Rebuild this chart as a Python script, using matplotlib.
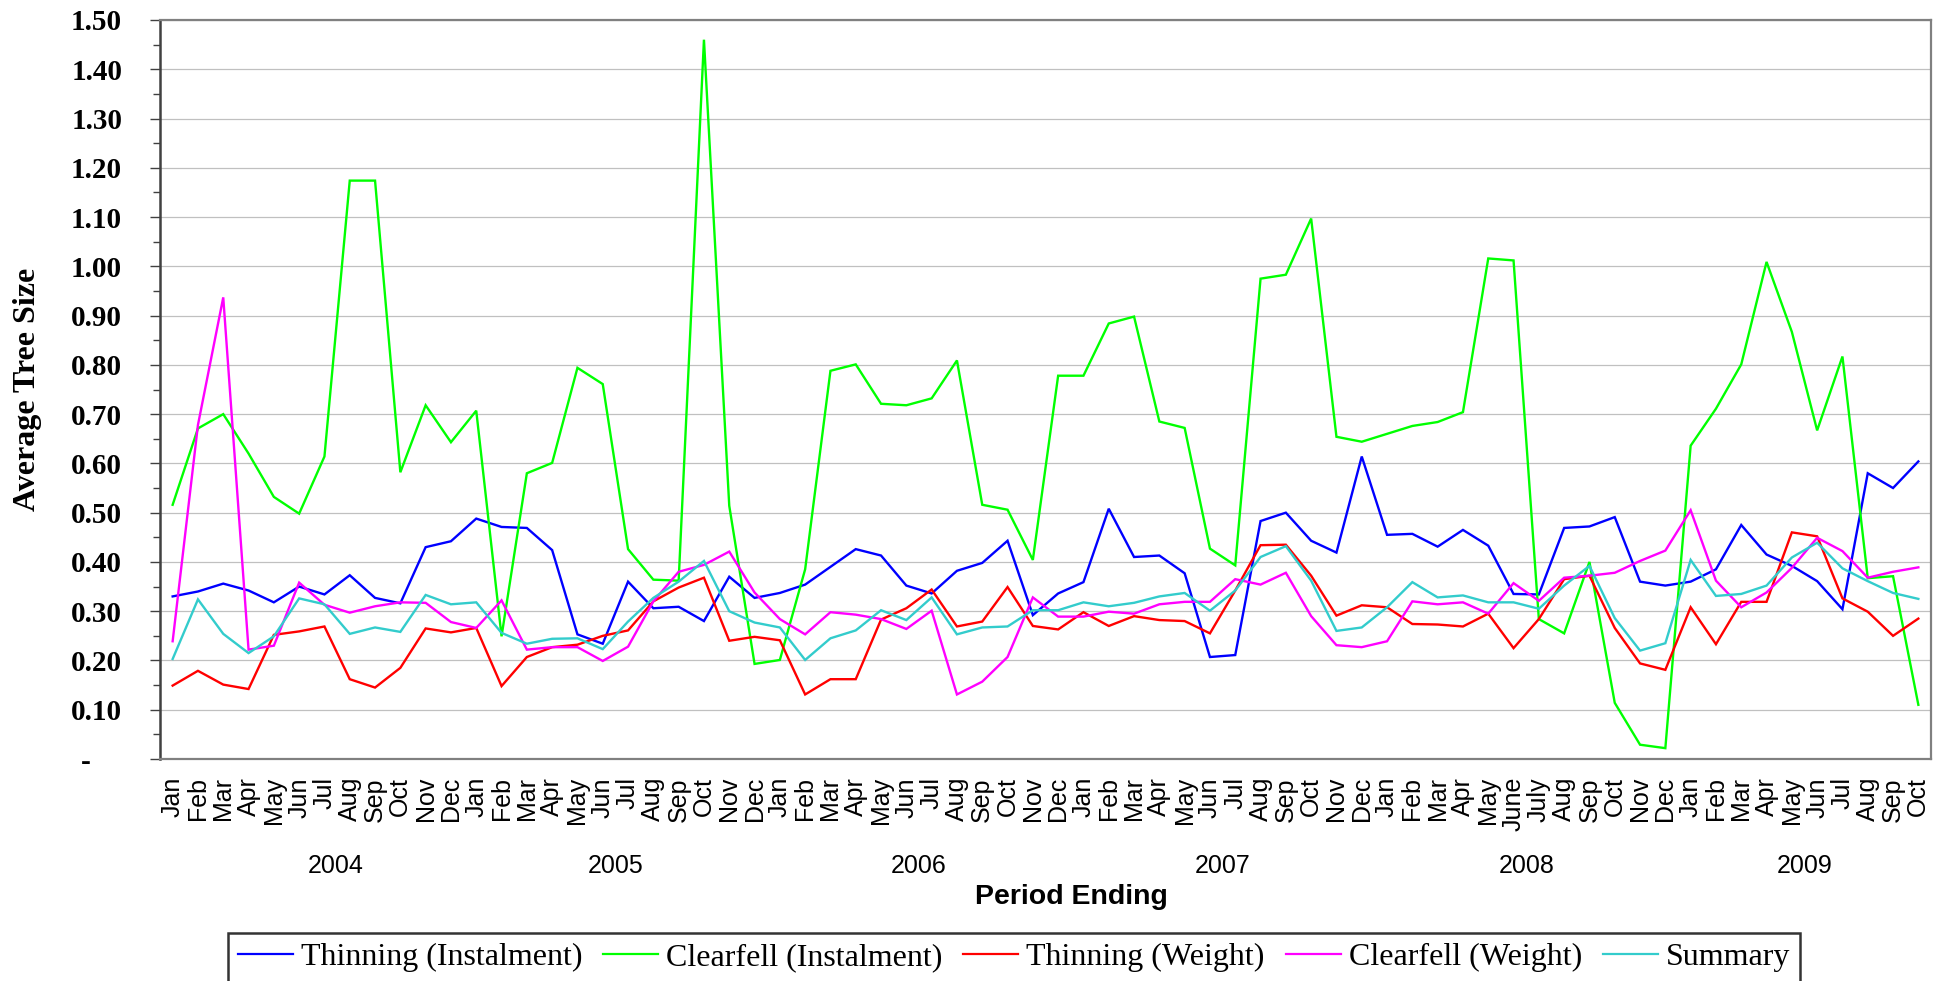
import matplotlib
matplotlib.use("Agg")
import matplotlib.pyplot as plt
import matplotlib.transforms as mtransforms
from matplotlib.ticker import MultipleLocator, FuncFormatter

# ---------------- data ----------------
months = (["Jan", "Feb", "Mar", "Apr", "May", "Jun", "Jul", "Aug", "Sep", "Oct", "Nov", "Dec"] * 4
          + ["Jan", "Feb", "Mar", "Apr", "May", "June", "July", "Aug", "Sep", "Oct", "Nov", "Dec"]
          + ["Jan", "Feb", "Mar", "Apr", "May", "Jun", "Jul", "Aug", "Sep", "Oct"])
years = ["2004", "2005", "2006", "2007", "2008", "2009"]
year_counts = [12, 12, 12, 12, 12, 10]

thinning_instalment = [
    0.330, 0.340, 0.356, 0.342, 0.318, 0.350, 0.334, 0.373, 0.327, 0.316, 0.430, 0.442,
    0.488, 0.471, 0.469, 0.424, 0.253, 0.234, 0.360, 0.306, 0.309, 0.280, 0.370, 0.327,
    0.337, 0.354, 0.390, 0.426, 0.413, 0.352, 0.336, 0.382, 0.398, 0.443, 0.292, 0.336,
    0.359, 0.508, 0.410, 0.413, 0.377, 0.207, 0.211, 0.483, 0.500, 0.443, 0.419, 0.614,
    0.455, 0.457, 0.431, 0.465, 0.433, 0.335, 0.334, 0.469, 0.472, 0.491, 0.360, 0.352,
    0.360, 0.385, 0.475, 0.415, 0.392, 0.361, 0.304, 0.580, 0.550, 0.604]
clearfell_instalment = [
    0.516, 0.671, 0.700, 0.620, 0.532, 0.498, 0.614, 1.174, 1.174, 0.582, 0.718, 0.643,
    0.707, 0.249, 0.580, 0.601, 0.794, 0.761, 0.426, 0.364, 0.362, 1.460, 0.514, 0.193,
    0.201, 0.385, 0.788, 0.801, 0.721, 0.718, 0.732, 0.809, 0.516, 0.506, 0.404, 0.778,
    0.778, 0.884, 0.898, 0.685, 0.672, 0.427, 0.393, 0.975, 0.983, 1.097, 0.654, 0.644,
    0.660, 0.676, 0.684, 0.704, 1.016, 1.012, 0.284, 0.255, 0.400, 0.114, 0.029, 0.022,
    0.636, 0.711, 0.801, 1.009, 0.867, 0.667, 0.817, 0.367, 0.371, 0.110]
thinning_weight = [
    0.149, 0.179, 0.151, 0.142, 0.252, 0.259, 0.269, 0.162, 0.145, 0.185, 0.265, 0.257,
    0.266, 0.148, 0.207, 0.227, 0.232, 0.250, 0.261, 0.320, 0.348, 0.368, 0.240, 0.248,
    0.241, 0.131, 0.162, 0.162, 0.283, 0.306, 0.344, 0.269, 0.279, 0.349, 0.270, 0.263,
    0.298, 0.270, 0.290, 0.282, 0.280, 0.255, 0.342, 0.434, 0.435, 0.372, 0.291, 0.312,
    0.308, 0.274, 0.273, 0.269, 0.295, 0.225, 0.284, 0.365, 0.372, 0.266, 0.194, 0.181,
    0.308, 0.233, 0.319, 0.319, 0.460, 0.452, 0.326, 0.299, 0.250, 0.285]
clearfell_weight = [
    0.239, 0.678, 0.937, 0.222, 0.230, 0.358, 0.313, 0.297, 0.310, 0.318, 0.317, 0.278,
    0.266, 0.322, 0.222, 0.227, 0.227, 0.199, 0.228, 0.320, 0.380, 0.394, 0.421, 0.338,
    0.284, 0.253, 0.298, 0.293, 0.284, 0.264, 0.301, 0.131, 0.157, 0.207, 0.328, 0.289,
    0.289, 0.299, 0.295, 0.314, 0.319, 0.319, 0.365, 0.354, 0.378, 0.290, 0.231, 0.227,
    0.239, 0.320, 0.314, 0.318, 0.295, 0.357, 0.321, 0.368, 0.372, 0.378, 0.402, 0.423,
    0.505, 0.362, 0.308, 0.338, 0.388, 0.449, 0.422, 0.368, 0.380, 0.389]
summary = [
    0.203, 0.324, 0.254, 0.215, 0.249, 0.326, 0.314, 0.254, 0.267, 0.258, 0.333, 0.314,
    0.318, 0.256, 0.234, 0.244, 0.245, 0.223, 0.279, 0.327, 0.360, 0.402, 0.300, 0.277,
    0.267, 0.201, 0.245, 0.261, 0.302, 0.282, 0.328, 0.253, 0.267, 0.269, 0.302, 0.302,
    0.318, 0.310, 0.317, 0.330, 0.337, 0.301, 0.342, 0.410, 0.432, 0.362, 0.260, 0.267,
    0.308, 0.359, 0.328, 0.332, 0.318, 0.318, 0.305, 0.352, 0.392, 0.286, 0.220, 0.235,
    0.404, 0.331, 0.335, 0.352, 0.409, 0.439, 0.387, 0.361, 0.337, 0.325]

series_names = ["Thinning (Instalment)", "Clearfell (Instalment)", "Thinning (Weight)",
                "Clearfell (Weight)", "Summary"]
series_values = [thinning_instalment, clearfell_instalment, thinning_weight,
                 clearfell_weight, summary]
series_colors = ["#0000FF", "#00FF00", "#FF0000", "#FF00FF", "#33CCCC"]

# ---------------- figure ----------------
W, H = 1948, 981
fig = plt.figure(figsize=(W / 100, H / 100), dpi=100)
ax = fig.add_axes([160 / W, 1 - 759 / H, (1931 - 160) / W, (759 - 20) / H])

x = list(range(len(months)))
handles = []
for name, vals, col in zip(series_names, series_values, series_colors):
    h, = ax.plot(x, vals, color=col, lw=1.7, label=name, zorder=3,
                 solid_joinstyle="miter")
    handles.append(h)

ax.set_xlim(-0.5, len(months) - 0.5)
ax.set_ylim(0, 1.5)

# y axis
ax.yaxis.set_major_locator(MultipleLocator(0.1))
ax.yaxis.set_minor_locator(MultipleLocator(0.05))
ax.yaxis.set_major_formatter(FuncFormatter(lambda v, p: "-" if abs(v) < 1e-9 else f"{v:.2f}"))
ax.tick_params(axis="y", which="major", direction="out", length=7.2, width=1.0,
               color="#404040", pad=20)
ax.tick_params(axis="y", which="minor", direction="out", length=5, width=1.0,
               color="#404040")
for lab in ax.get_yticklabels():
    lab.set_fontfamily("Liberation Serif")
    lab.set_fontweight("bold")
    lab.set_fontsize(21)
ax.grid(axis="y", which="major", color="#C0C0C0", lw=0.9, zorder=0)
ax.set_axisbelow(True)

# x axis
ax.set_xticks(x)
ax.set_xticklabels(months, rotation=90, fontsize=18, fontfamily="Liberation Sans",
                   va="top", ha="center")
ax.tick_params(axis="x", length=0, pad=13)

for s in ["top", "right", "bottom"]:
    ax.spines[s].set_color("#808080")
    ax.spines[s].set_linewidth(1.6)
ax.spines["left"].set_color("#404040")
ax.spines["left"].set_linewidth(1.8)

# move the "-" zero label like the accounting format
fig.canvas.draw()
for lab in ax.get_yticklabels():
    if lab.get_text() == "-":
        lab.set_transform(lab.get_transform()
                          + mtransforms.ScaledTranslation(-31 / 100, 0, fig.dpi_scale_trans))

# year group labels
trans = mtransforms.blended_transform_factory(ax.transData, fig.transFigure)
start = 0
for i, (yr, n) in enumerate(zip(years, year_counts)):
    centre = start + (n - 1) / 2
    if i == 0:
        centre += 0.95
    ax.text(centre, 1 - 866 / H, yr, transform=trans, ha="center", va="center",
            fontsize=18, fontfamily="Liberation Sans", clip_on=False)
    start += n

fig.text(1071 / W, 1 - 897 / H, "Period Ending", ha="center", va="center",
         fontsize=20.5, fontweight="bold", fontfamily="Liberation Sans")
fig.text(28 / W, 1 - 389 / H, "Average Tree Size", ha="center", va="center",
         rotation=90, fontsize=23, fontweight="bold", fontfamily="Liberation Serif")

leg = fig.legend(handles=handles, loc="upper left", bbox_to_anchor=(228 / W, 1 - 933 / H),
                 bbox_transform=fig.transFigure, ncol=5, frameon=True, fancybox=False,
                 prop={"family": "Liberation Serif", "size": 23},
                 handlelength=1.72, handletextpad=0.25, columnspacing=0.66,
                 borderpad=0.3, borderaxespad=0)
leg.get_frame().set_edgecolor("black")
leg.get_frame().set_linewidth(1.8)
for lh in leg.get_lines():
    lh.set_linewidth(1.6)

fig.savefig("out.png", dpi=100)
